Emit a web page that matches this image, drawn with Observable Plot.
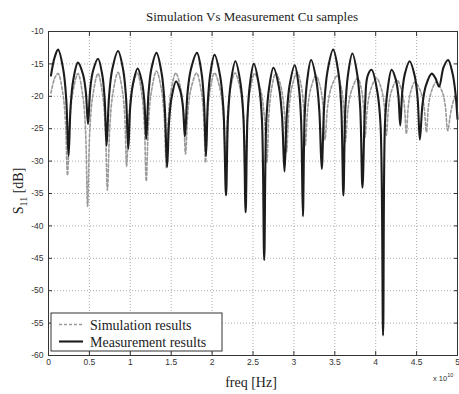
<!DOCTYPE html>
<html>
<head>
<meta charset="utf-8">
<script src="https://cdn.jsdelivr.net/npm/d3@7"></script>
<script src="https://cdn.jsdelivr.net/npm/@observablehq/plot@0.6"></script>
<style>
  html, body { margin: 0; padding: 0; background: white; }
</style>
</head>
<body>
<div id="chart"></div>
<script>
// ---- Data (frequency in units of 1e10 Hz, S11 in dB) ----
const measFreq = [0.03, 0.075, 0.117, 0.181, 0.217, 0.245, 0.270, 0.3025, 0.36, 0.4215, 0.456, 0.483, 0.510, 0.544, 0.605, 0.6575, 0.687, 0.71, 0.741, 0.78, 0.85, 0.9125, 0.9475, 0.975, 1.0, 1.0325, 1.09, 1.1425, 1.172, 1.195, 1.2225, 1.2575, 1.32, 1.385, 1.421, 1.45, 1.474, 1.505, 1.56, 1.614, 1.644, 1.668, 1.70, 1.7415, 1.815, 1.87, 1.901, 1.925, 1.948, 1.9775, 2.03, 2.10, 2.139, 2.17, 2.195, 2.2275, 2.285, 2.3475, 2.3825, 2.41, 2.432, 2.46, 2.51, 2.5735, 2.609, 2.637, 2.662, 2.6935, 2.75, 2.8175, 2.855, 2.885, 2.9125, 2.9475, 3.01, 3.06, 3.088, 3.11, 3.132, 3.16, 3.21, 3.275, 3.311, 3.34, 3.371, 3.41, 3.48, 3.5425, 3.5775, 3.605, 3.629, 3.66, 3.715, 3.7765, 3.811, 3.838, 3.87, 3.90, 3.95, 4.02, 4.059, 4.09, 4.113, 4.1425, 4.195, 4.2475, 4.277, 4.30, 4.325, 4.3575, 4.415, 4.4775, 4.5125, 4.54, 4.572, 4.6125, 4.685, 4.73, 4.775, 4.83, 4.885, 4.94, 4.975, 5.0];
const measDb = [-16.8, -14.0, -12.8, -15.9, -20.5, -29.2, -21.6, -17.5, -14.8, -16.6, -19.3, -24.3, -18.9, -16.1, -14.2, -16.7, -20.5, -27.6, -19.9, -15.8, -13.0, -15.9, -20.1, -28.1, -21.5, -18.1, -15.7, -17.8, -20.8, -26.6, -19.6, -15.8, -13.3, -16.6, -21.6, -30.9, -23.9, -20.2, -17.7, -19.3, -21.7, -26.2, -19.4, -15.8, -13.3, -16.3, -20.8, -29.2, -20.9, -16.6, -13.6, -17.0, -22.1, -35.3, -23.1, -18.0, -14.6, -18.0, -23.1, -37.9, -23.5, -18.4, -15.0, -18.4, -23.5, -45.3, -24.1, -19.0, -15.6, -18.6, -23.1, -31.6, -22.9, -18.3, -15.2, -18.6, -23.7, -38.5, -22.9, -17.8, -14.4, -17.6, -22.3, -31.2, -21.3, -16.2, -12.8, -16.2, -21.3, -35.3, -21.9, -16.8, -13.4, -16.8, -21.9, -34.1, -21.5, -16.9, -15.9, -19.3, -24.4, -56.9, -24.4, -19.3, -15.9, -17.5, -19.9, -24.5, -19.3, -16.5, -14.6, -16.9, -20.3, -26.7, -21.3, -18.4, -16.5, -17.2, -18.5, -15.5, -14.4, -16.5, -19.5, -23.5];

const simFreq = [0.03, 0.075, 0.117, 0.1745, 0.207, 0.232, 0.26, 0.296, 0.36, 0.419, 0.452, 0.478, 0.506, 0.5415, 0.605, 0.6625, 0.695, 0.72, 0.749, 0.785, 0.85, 0.9025, 0.932, 0.955, 0.984, 1.02, 1.085, 1.14, 1.171, 1.195, 1.2225, 1.2575, 1.32, 1.38, 1.414, 1.44, 1.466, 1.498, 1.556, 1.6155, 1.649, 1.675, 1.705, 1.7425, 1.81, 1.865, 1.896, 1.92, 1.944, 1.975, 2.03, 2.0975, 2.135, 2.165, 2.19, 2.2225, 2.28, 2.345, 2.381, 2.41, 2.434, 2.465, 2.52, 2.595, 2.637, 2.67, 2.694, 2.725, 2.78, 2.845, 2.881, 2.91, 2.939, 2.975, 3.04, 3.09, 3.118, 3.14, 3.169, 3.205, 3.27, 3.325, 3.356, 3.38, 3.413, 3.455, 3.53, 3.58, 3.608, 3.63, 3.663, 3.705, 3.78, 3.825, 3.85, 3.87, 3.90, 3.94, 4.01, 4.07, 4.104, 4.13, 4.159, 4.195, 4.26, 4.3175, 4.35, 4.375, 4.398, 4.4275, 4.48, 4.55, 4.589, 4.62, 4.646, 4.68, 4.74, 4.81, 4.849, 4.88, 4.92, 4.96, 5.0];
const simDb = [-19.5, -17.2, -16.5, -19.5, -23.9, -32.2, -23.9, -19.5, -16.5, -19.9, -25.0, -37.0, -25.0, -19.9, -16.5, -19.9, -25.0, -34.5, -24.8, -19.7, -16.3, -19.1, -23.1, -30.8, -23.2, -19.1, -16.4, -19.6, -24.2, -33.1, -24.1, -19.3, -16.1, -18.9, -23.1, -31.0, -23.3, -19.2, -16.4, -18.8, -22.3, -28.9, -22.3, -18.8, -16.4, -19.0, -22.9, -30.2, -22.9, -19.0, -16.4, -18.9, -22.6, -29.5, -22.6, -18.9, -16.4, -19.0, -22.8, -30.0, -22.8, -19.1, -16.5, -19.1, -22.9, -30.2, -22.9, -19.0, -16.4, -18.7, -22.1, -28.6, -22.1, -18.6, -16.3, -18.4, -21.6, -27.6, -21.9, -18.9, -16.8, -18.7, -21.5, -26.7, -21.5, -18.7, -16.8, -18.7, -21.6, -27.0, -21.8, -19.1, -17.2, -18.9, -21.5, -26.3, -21.5, -18.9, -17.2, -18.9, -21.3, -26.0, -21.5, -19.1, -17.5, -19.1, -21.4, -25.8, -21.6, -19.3, -17.8, -19.3, -21.4, -25.5, -21.4, -19.3, -17.8, -19.2, -21.3, -25.3, -22.3, -20.4, -19.8];

const xTicks = [0, 0.5, 1, 1.5, 2, 2.5, 3, 3.5, 4, 4.5, 5];
const yTicks = [-60, -55, -50, -45, -40, -35, -30, -25, -20, -15, -10];

const titleText = "Simulation Vs Measurement Cu samples";
const xLabel = "freq [Hz]";
const seriesNames = ["Simulation results", "Measurement results"];

const simulation = simFreq.map((f, i) => ({f, db: simDb[i]}));
const measurement = measFreq.map((f, i) => ({f, db: measDb[i]}));

const serif = "'Liberation Serif', 'Times New Roman', serif";
const sans = "'Liberation Sans', Arial, sans-serif";

const chart = Plot.plot({
  width: 459,
  height: 394,
  marginTop: 31,
  marginLeft: 48,
  marginRight: 2,
  marginBottom: 39,
  style: {fontFamily: sans, fontSize: "8.5px", color: "#333", background: "white"},
  x: {domain: [0, 5]},
  y: {domain: [-60, -10]},
  marks: [
    Plot.gridX(xTicks, {stroke: "#777", strokeDasharray: "1,2", strokeOpacity: 0.6}),
    Plot.gridY(yTicks, {stroke: "#777", strokeDasharray: "1,2", strokeOpacity: 0.6}),
    Plot.line(simulation, {x: "f", y: "db", stroke: "#9a9a9a", strokeWidth: 1.6, strokeDasharray: "3,2", curve: "catmull-rom"}),
    Plot.line(measurement, {x: "f", y: "db", stroke: "#1c1c1c", strokeWidth: 2.1, curve: "catmull-rom"}),
    Plot.frame({stroke: "#333"}),
    Plot.axisX(xTicks, {anchor: "bottom", tickSize: -4, tickPadding: 7, label: null, tickFormat: d => String(d), fill: "#333"}),
    Plot.axisX(xTicks, {anchor: "top", tickSize: -4, label: null, tickFormat: () => ""}),
    Plot.axisY(yTicks, {anchor: "left", tickSize: -4, tickPadding: 9, label: null, tickFormat: d => String(d), fill: "#333"}),
    Plot.axisY(yTicks, {anchor: "right", tickSize: -4, label: null, tickFormat: () => ""})
  ]
});

document.getElementById("chart").appendChild(chart);

const svg = d3.select(chart);
// Title
svg.append("text").attr("x", 252).attr("y", 21).attr("text-anchor", "middle")
  .attr("font-family", serif).attr("font-size", 13).attr("fill", "#222").text(titleText);
// x label
svg.append("text").attr("x", 251).attr("y", 387).attr("text-anchor", "middle")
  .attr("font-family", serif).attr("font-size", 14).attr("fill", "#222").text(xLabel);
// x exponent
const ex = svg.append("text").attr("x", 433).attr("y", 381).attr("text-anchor", "start")
  .attr("font-family", sans).attr("font-size", 7.5).attr("fill", "#333");
ex.append("tspan").text("x 10");
ex.append("tspan").attr("dy", -4).attr("font-size", 5.5).text("10");
// y label with subscript
const yl = svg.append("text").attr("transform", "translate(23,191) rotate(-90)").attr("text-anchor", "middle")
  .attr("font-family", serif).attr("font-size", 14).attr("fill", "#222");
yl.append("tspan").text("S");
yl.append("tspan").attr("dy", 4).attr("font-size", 10).text("11");
yl.append("tspan").attr("dy", -4).text(" [dB]");
// Legend
const lg = svg.append("g");
lg.append("rect").attr("x", 51).attr("y", 313).attr("width", 171).attr("height", 38)
  .attr("fill", "white").attr("stroke", "#333").attr("stroke-width", 1);
lg.append("line").attr("x1", 59).attr("x2", 83).attr("y1", 324.5).attr("y2", 324.5)
  .attr("stroke", "#9a9a9a").attr("stroke-width", 1.6).attr("stroke-dasharray", "3,2");
lg.append("line").attr("x1", 59).attr("x2", 83).attr("y1", 341.5).attr("y2", 341.5)
  .attr("stroke", "#1c1c1c").attr("stroke-width", 2.1);
lg.append("text").attr("x", 90).attr("y", 329.5).attr("text-anchor", "start").attr("font-family", serif)
  .attr("font-size", 14).attr("fill", "#222").text(seriesNames[0]);
lg.append("text").attr("x", 90).attr("y", 346.5).attr("text-anchor", "start").attr("font-family", serif)
  .attr("font-size", 14).attr("fill", "#222").text(seriesNames[1]);
</script>
</body>
</html>
